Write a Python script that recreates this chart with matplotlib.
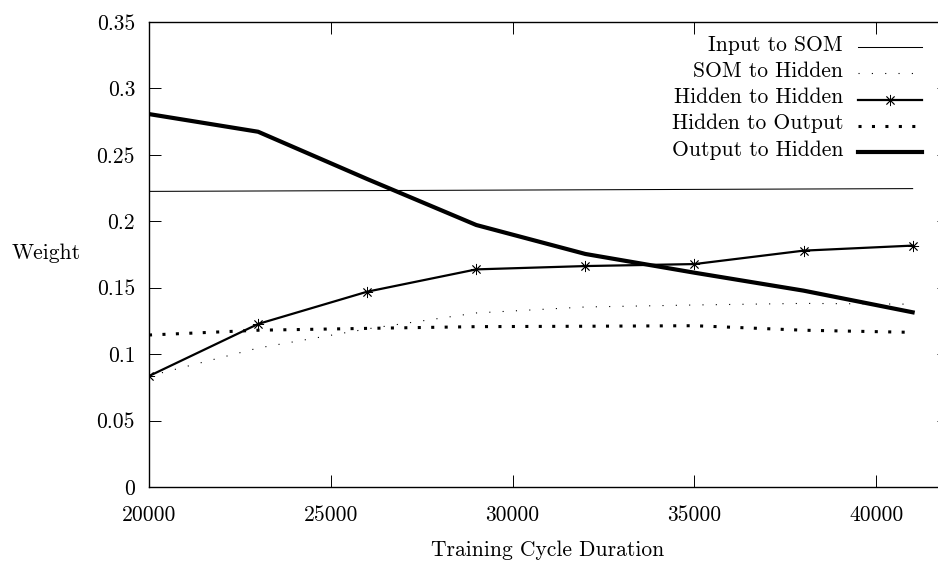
import matplotlib
matplotlib.use("Agg")
from matplotlib import pyplot as plt

plt.rcParams['font.family'] = ['cmr10', 'DejaVu Serif']
plt.rcParams['axes.formatter.use_mathtext'] = True
plt.rcParams['font.size'] = 15.5

# Training cycle durations (x values)
cycles = [20000, 23000, 26000, 29000, 32000, 35000, 38000, 41000]

# Weight values
input_to_som = [0.2225, 0.2228, 0.2231, 0.2234, 0.2237, 0.2240, 0.2243, 0.2246]
som_to_hidden = [0.0835, 0.1046, 0.1190, 0.1310, 0.1355, 0.1370, 0.1382, 0.1376]
hidden_to_hidden = [0.0835, 0.1227, 0.1470, 0.1638, 0.1663, 0.1678, 0.1779, 0.1817]
hidden_to_output = [0.1144, 0.1180, 0.1194, 0.1207, 0.1210, 0.1214, 0.1180, 0.1164]
output_to_hidden = [0.2807, 0.2674, 0.2318, 0.1972, 0.1754, 0.1613, 0.1478, 0.1315]

xticks = [20000, 25000, 30000, 35000, 40000]
yticks = [0, 0.05, 0.1, 0.15, 0.2, 0.25, 0.3, 0.35]
ytick_labels = ["0", "0.05", "0.1", "0.15", "0.2", "0.25", "0.3", "0.35"]

star = (8, 2, 0)

# label, data, line style
series = [
    ("Input to SOM", input_to_som, dict(lw=0.75, ls='-')),
    ("SOM to Hidden", som_to_hidden, dict(lw=0.8, ls=(0, (1, 11)))),
    ("Hidden to Hidden", hidden_to_hidden, dict(lw=1.6, ls='-', marker=star, ms=8, mew=0.6)),
    ("Hidden to Output", hidden_to_output, dict(lw=2.2, ls=(0, (1, 3.4)), dash_capstyle='butt')),
    ("Output to Hidden", output_to_hidden, dict(lw=3.0, ls='-')),
]

fig = plt.figure(figsize=(9.38, 5.61), dpi=100)
ax = fig.add_axes([149 / 938, 74 / 561, 800 / 938, 465 / 561])

for label, ys, style in series:
    ax.plot(cycles, ys, color='black', **style)

ax.set_xlim(20000, 42000)
ax.set_ylim(0, 0.35)
ax.set_xticks(xticks)
ax.set_xticklabels([str(v) for v in xticks])
ax.set_yticks(yticks)
ax.set_yticklabels(ytick_labels)
ax.tick_params(direction='in', length=8.6, width=0.7, top=True, right=True)
ax.tick_params(axis='x', pad=13)
ax.tick_params(axis='y', pad=10)
for sp in ax.spines.values():
    sp.set_linewidth(1.0)
# right border falls outside the cropped picture
ax.spines['right'].set_visible(False)

ax.set_xlabel("Training Cycle Duration")
ax.xaxis.set_label_coords(0.4985, -0.116)
ax.set_ylabel("Weight", rotation=0, ha='center', va='center')
ax.yaxis.set_label_coords(-0.129, 0.503)

# gnuplot-style key: text right-aligned, sample to the right
key_text_x = 0.8675
key_line = (0.8863, 0.9663)
key_rows = [0.9456, 0.8895, 0.8333, 0.7772, 0.7211]
for (label, ys, style), ky in zip(series, key_rows):
    ax.text(key_text_x, ky + 0.004, label, transform=ax.transAxes,
            ha='right', va='center')
    st = {k: v for k, v in style.items() if k not in ('marker', 'ms', 'mew')}
    ax.plot(key_line, [ky, ky], transform=ax.transAxes, color='black',
            clip_on=False, **st)
    if 'marker' in style:
        ax.plot([sum(key_line) / 2], [ky], transform=ax.transAxes, color='black',
                marker=style['marker'], ms=style['ms'], mew=style['mew'], ls='none')

fig.savefig("out.png", dpi=100)
